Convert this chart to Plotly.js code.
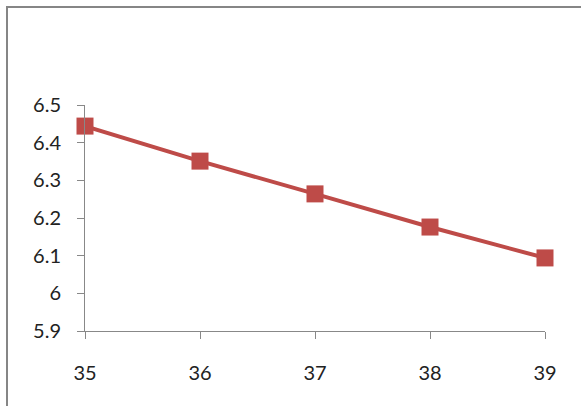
<!DOCTYPE html>
<html><head><meta charset="utf-8">
<script src="https://cdn.plot.ly/plotly-3.0.1.min.js"></script>
<style>
html,body{margin:0;padding:0;background:#fff;}
#wrap{position:relative;width:581px;height:406px;overflow:hidden;}
#frame{position:absolute;left:6px;top:6px;width:600px;height:420px;border:2px solid #868686;box-sizing:border-box;pointer-events:none;}
#chart{position:absolute;left:0;top:0;width:581px;height:406px;}
</style></head>
<body><div id="wrap"><div id="chart"></div><div id="frame"></div></div>
<script>
const xValues = [35, 36, 37, 38, 39];
const yValues = [6.444, 6.351, 6.264, 6.176, 6.094];
const yTicks = [5.9, 6, 6.1, 6.2, 6.3, 6.4, 6.5];
const yTickText = ['5.9', '6', '6.1', '6.2', '6.3', '6.4', '6.5'];

const fontFam = 'Lato, "Open Sans", sans-serif';
Plotly.newPlot('chart', [{
  x: xValues, y: yValues, type: 'scatter', mode: 'lines+markers',
  cliponaxis: false,
  line: {color: '#BE4B48', width: 4},
  marker: {symbol: 'square', size: 17, color: '#BE4B48'}
}], {
  width: 581, height: 406,
  margin: {l: 85, r: 36, t: 105, b: 75},
  paper_bgcolor: '#fff', plot_bgcolor: '#fff',
  showlegend: false,
  font: {family: fontFam, size: 20, color: '#222'},
  xaxis: {range: [35, 39], tickvals: xValues, ticktext: xValues.map(String),
    showgrid: false, zeroline: false, showline: true, linecolor: '#888', linewidth: 1,
    ticks: 'outside', ticklen: 7, tickcolor: '#888', ticklabelstandoff: 17},
  yaxis: {range: [5.9, 6.5], tickvals: yTicks, ticktext: yTickText,
    showgrid: false, zeroline: false, showline: true, linecolor: '#888', linewidth: 1,
    ticks: 'outside', ticklen: 7, tickcolor: '#888', ticklabelstandoff: 12}
}, {staticPlot: true});
</script></body></html>
